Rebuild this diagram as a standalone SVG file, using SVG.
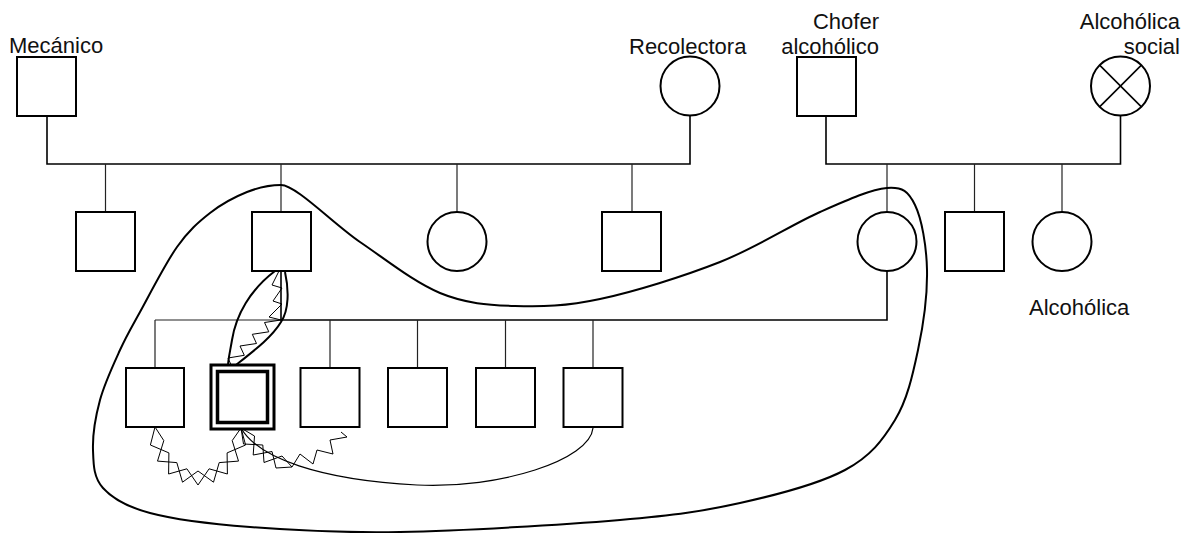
<svg xmlns="http://www.w3.org/2000/svg" width="1188" height="533" viewBox="0 0 1188 533">
  <style>
    .node { fill: #fff; stroke: #000; stroke-width: 2; }
    .line { fill: none; stroke: #000; stroke-width: 1.6; }
    .drop { fill: none; stroke: #222; stroke-width: 1.2; }
    .bond { fill: none; stroke: #000; stroke-width: 2; }
    .zig { fill: none; stroke: #000; stroke-width: 1; stroke-linejoin: miter; }
    .thin { fill: none; stroke: #000; stroke-width: 1.2; }
    .label { font-family: "Liberation Sans", Arial, sans-serif; font-size: 22px; fill: #111; }
  </style>

  <!-- family lines -->
  <g id="connectors">
    <!-- Mecánico + Recolectora -->
    <polyline class="line" points="47,116 47,164 690,164 690,116"/>
    <line class="drop" x1="105.5" y1="164" x2="105.5" y2="212"/>
    <line class="drop" x1="281" y1="164" x2="281" y2="212"/>
    <line class="drop" x1="457" y1="164" x2="457" y2="212"/>
    <line class="drop" x1="632" y1="164" x2="632" y2="212"/>
    <!-- Chofer + Alcohólica social -->
    <polyline class="line" points="826,116 826,164 1120.5,164 1120.5,116"/>
    <line class="drop" x1="887" y1="164" x2="887" y2="212"/>
    <line class="drop" x1="974.5" y1="164" x2="974.5" y2="212"/>
    <line class="drop" x1="1062" y1="164" x2="1062" y2="212"/>
    <!-- couple of the second generation -->
    <polyline class="line" points="281,271 281,320 887,320 887,271"/>
    <line class="drop" x1="155" y1="320" x2="281" y2="320"/>
    <line class="drop" x1="155" y1="320" x2="155" y2="368"/>
    <line class="drop" x1="330" y1="320" x2="330" y2="368"/>
    <line class="drop" x1="417.5" y1="320" x2="417.5" y2="368"/>
    <line class="drop" x1="505.5" y1="320" x2="505.5" y2="368"/>
    <line class="drop" x1="593" y1="320" x2="593" y2="368"/>

    <!-- household boundary -->
    <path class="bond" d="M281,185 C296,185 333.5,224 360,242 C386.5,260 414.2,282.3 440,293 C465.8,303.7 488.3,305 515,306 C541.7,307 565.8,306.3 600,299 C634.2,291.7 683.3,276.5 720,262 C756.7,247.5 792.2,224.3 820,212 C847.8,199.7 871.2,189.2 887,188 C902.8,186.8 908.3,191.3 915,205 C921.7,218.7 926.5,245.8 927,270 C927.5,294.2 923.3,325 918,350 C912.7,375 907.2,400 895,420 C882.8,440 870.8,456.2 845,470 C819.2,483.8 777.5,494.7 740,503 C702.5,511.3 676.7,515.2 620,520 C563.3,524.8 461.7,530.8 400,532 C338.3,533.2 291.7,530.2 250,527 C208.3,523.8 174.5,519.5 150,513 C125.5,506.5 112.5,498.5 103,488 C93.5,477.5 93.5,464.7 93,450 C92.5,435.3 95.5,416.7 100,400 C104.5,383.3 113.3,364.7 120,350 C126.7,335.3 130.5,329.2 140,312 C149.5,294.8 165.3,263.5 177,247 C188.7,230.5 198.3,222.2 210,213 C221.7,203.8 235.2,196.7 247,192 C258.8,187.3 268.8,185 281,185 Z"/>

    <!-- close bond between father and index -->
    <path class="bond" d="M275,271 C250,290 236,315 232,340 C230,352 228,360 228,366"/>
    <path class="bond" d="M285,272 C289,290 289,310 281,322 C272,337 255,350 236,365"/>
    <polyline class="zig" points="279,271 272,285 282,288 273,301 282,304 269,317 281,320 264.5,322.5 268.8,331.8 252.3,334.3 256.5,343.5 240,346 244.3,355.3 228,358 232,367"/>

    <!-- conflictive bonds below the index -->
    <polyline class="zig" points="155,427 150.4,445 168.9,452.9 168.6,474 186.9,468.8 198,485 209.1,468.8 227.4,474 227.1,452.9 245.6,445 241,428"/>
    <polyline class="zig" points="155,427 163.8,440.6 157.5,461.1 176.8,462.6 182.5,482.2 198,471 213.5,482.2 219.2,462.6 238.5,461.1 232.2,440.6 241,428"/>
    <polyline class="zig" points="241,428 254.5,436 253.2,455 272,451.5 276,468 292,467"/>
    <polyline class="zig" points="241,428 243.5,444 262.8,445 264,462.5 282,456 292,467"/>
    <polyline class="zig" points="292,467 300,454 313,464 317,450 333,454 330,440 347,437 341,432"/>
    <path class="thin" d="M241,428 C258,458 320,480 417,485 C500,489 590,460 593,428"/>
  </g>

  <!-- first generation -->
  <g id="mecanico">
    <rect class="node" x="17" y="57" width="59" height="59"/>
    <text class="label" x="9" y="53">Mecánico</text>
  </g>
  <g id="recolectora">
    <circle class="node" cx="690" cy="86" r="29.5"/>
    <text class="label" x="629" y="54">Recolectora</text>
  </g>
  <g id="chofer">
    <rect class="node" x="797" y="57" width="59" height="59"/>
    <text class="label" x="879" y="29" text-anchor="end">Chofer</text>
    <text class="label" x="879" y="53.5" text-anchor="end">alcohólico</text>
  </g>
  <g id="alcoholica-social">
    <circle class="node" cx="1120.5" cy="86" r="29.5"/>
    <line class="line" x1="1099.6" y1="65.1" x2="1141.4" y2="106.9"/>
    <line class="line" x1="1141.4" y1="65.1" x2="1099.6" y2="106.9"/>
    <text class="label" x="1180" y="29" text-anchor="end">Alcohólica</text>
    <text class="label" x="1180" y="53.5" text-anchor="end">social</text>
  </g>

  <!-- second generation -->
  <g id="hijo-1"><rect class="node" x="76" y="212" width="59" height="59"/></g>
  <g id="padre"><rect class="node" x="252" y="212" width="59" height="59"/></g>
  <g id="hija-1"><circle class="node" cx="457" cy="241.5" r="29.5"/></g>
  <g id="hijo-3"><rect class="node" x="602" y="212" width="59" height="59"/></g>
  <g id="madre"><circle class="node" cx="887" cy="241.5" r="29.5"/></g>
  <g id="tio"><rect class="node" x="945" y="212" width="59" height="59"/></g>
  <g id="tia">
    <circle class="node" cx="1062" cy="241.5" r="29.5"/>
    <text class="label" x="1029" y="315">Alcohólica</text>
  </g>

  <!-- third generation -->
  <g id="hermano-1"><rect class="node" x="126" y="368" width="58" height="59"/></g>
  <g id="indice">
    <rect x="211" y="365" width="63" height="64" fill="#fff" stroke="#000" stroke-width="3"/>
    <rect x="217.5" y="371.5" width="50" height="51" fill="none" stroke="#000" stroke-width="3.5"/>
  </g>
  <g id="hermano-3"><rect class="node" x="300.5" y="368" width="59" height="59"/></g>
  <g id="hermano-4"><rect class="node" x="388" y="368" width="59" height="59"/></g>
  <g id="hermano-5"><rect class="node" x="476" y="368" width="59" height="59"/></g>
  <g id="hermano-6"><rect class="node" x="563.5" y="368" width="59" height="59"/></g>
</svg>
